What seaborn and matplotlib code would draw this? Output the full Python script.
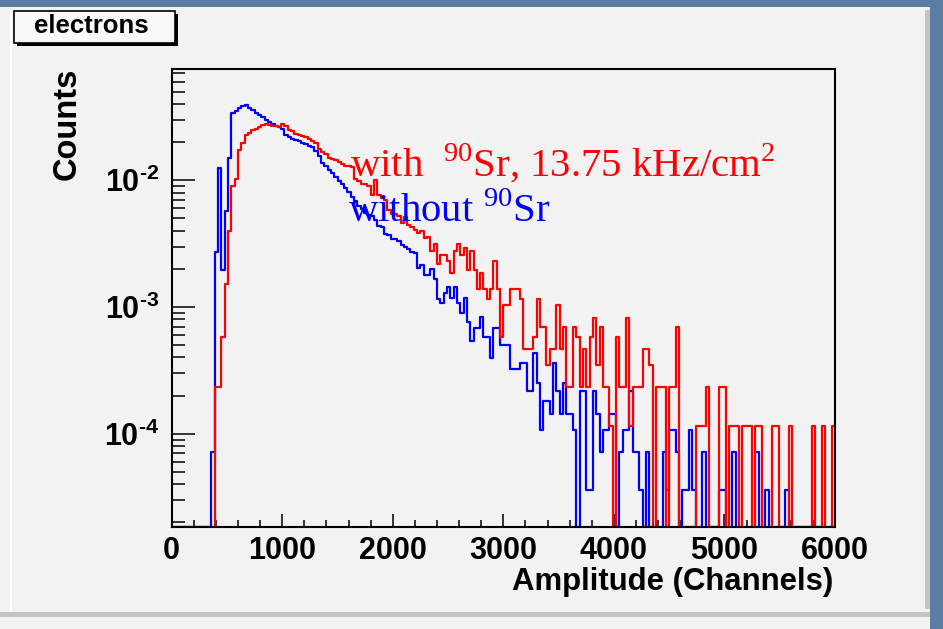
import numpy as np
import pandas as pd
import seaborn as sns
import matplotlib.pyplot as plt
from matplotlib.patches import Rectangle
from matplotlib.ticker import MultipleLocator, LogLocator, FuncFormatter, NullFormatter

# histogram binning: 200 bins of 30 channels between 0 and 6000
bin_width = 30
x_range = (0, 6000)
edges = np.arange(x_range[0], x_range[1] + bin_width, bin_width)

# entries per bin (blue = without 90Sr, red = with 90Sr)
blue_counts = [
    0, 0, 0, 0, 0, 0, 0, 0, 0, 0, 0, 0, 2, 76, 350, 54, 160, 420, 940, 980,
    1030, 1080, 1090, 1030, 990, 940, 910, 880, 835, 800, 775, 750, 730, 700, 630, 610, 590, 580, 565, 545,
    535, 515, 505, 470, 435, 380, 360, 335, 315, 295, 275, 262, 240, 225, 205, 190, 175, 165, 152, 148,
    145, 135, 120, 118, 105, 103, 96, 95, 92, 86, 82, 80, 76, 74, 56, 60, 50, 50, 55, 46,
    32, 30, 36, 40, 33, 40, 30, 25, 33, 21, 15, 19, 19, 23, 16, 16, 11, 19, 19, 14,
    14, 14, 9, 9, 9, 10, 10, 6, 6, 12, 7, 3, 5, 5, 4, 10, 6, 4, 7, 4,
    4, 3, 0, 6, 6, 1, 1, 6, 4, 2, 3, 3, 4, 4, 0, 2, 3, 3, 6, 2,
    2, 1, 0, 2, 0, 0, 0, 0, 2, 1, 3, 3, 2, 0, 1, 1, 3, 1, 0, 0,
    2, 0, 0, 0, 0, 1, 1, 0, 0, 2, 0, 0, 0, 0, 0, 0, 2, 0, 0, 1,
    0, 0, 0, 0, 0, 1, 0, 0, 0, 0, 0, 0, 0, 0, 0, 0, 0, 0, 0, 0,
]
red_counts = [
    0, 0, 0, 0, 0, 0, 0, 0, 0, 0, 0, 0, 0, 2, 2, 5, 13, 34, 77, 88,
    150, 170, 195, 205, 214, 220, 228, 234, 240, 236, 230, 232, 225, 238, 229, 214, 210, 200, 195, 192,
    190, 182, 175, 170, 152, 145, 140, 130, 126, 125, 120, 115, 112, 112, 110, 88, 85, 80, 80, 78,
    66, 86, 66, 63, 60, 50, 47, 47, 45, 40, 44, 38, 37, 35, 33, 34, 30, 31, 24, 27,
    19, 22, 22, 20, 16, 24, 27, 22, 25, 17, 24, 17, 12, 16, 12, 10, 12, 20, 12, 5,
    9, 9, 12, 12, 12, 10, 4, 4, 4, 5, 10, 6, 6, 3, 4, 4, 9, 4, 6, 2,
    2, 6, 5, 2, 4, 2, 5, 7, 3, 6, 2, 2, 1, 0, 5, 2, 2, 7, 1, 2,
    2, 2, 4, 4, 3, 0, 2, 2, 2, 0, 2, 2, 6, 0, 0, 0, 0, 0, 1, 1,
    1, 2, 0, 0, 0, 2, 2, 0, 1, 1, 1, 0, 1, 1, 1, 0, 1, 1, 0, 0,
    0, 1, 1, 0, 0, 0, 1, 0, 0, 0, 0, 0, 0, 1, 0, 0, 1, 0, 0, 1,
]
n_blue = 27800
n_red = 8620

y_min, y_max = 1.85e-5, 0.075
centers = edges[:-1] + bin_width / 2

# empty bins sit on the bottom of the frame, like ROOT does on a log axis
df_blue = pd.DataFrame({"amplitude": centers,
                        "norm": np.clip(np.array(blue_counts) / n_blue, y_min, None)})
df_red = pd.DataFrame({"amplitude": centers,
                       "norm": np.clip(np.array(red_counts) / n_red, y_min, None)})

plt.rcParams["font.family"] = ["Liberation Sans", "DejaVu Sans"]
plt.rcParams["mathtext.fontset"] = "custom"
plt.rcParams["mathtext.rm"] = "Liberation Serif"
plt.rcParams["mathtext.sf"] = "Liberation Sans:bold"

panel = "#f2f2f2"
slide_blue = "#5c7ca4"

fig = plt.figure(figsize=(9.43, 6.29), dpi=100)
fig.patch.set_facecolor(panel)

# slide background around the canvas
fig.patches.append(Rectangle((0, 1 - 7 / 629), 1, 7 / 629, transform=fig.transFigure,
                             facecolor=slide_blue, edgecolor="none", zorder=0))
fig.patches.append(Rectangle((930 / 943, 0), 13 / 943, 1, transform=fig.transFigure,
                             facecolor=slide_blue, edgecolor="none", zorder=0))
fig.patches.append(Rectangle((925 / 943, 20 / 629), 5 / 943, 1 - 30 / 629, transform=fig.transFigure,
                             facecolor="#c4c4c4", edgecolor="none", zorder=0))
fig.patches.append(Rectangle((0, 1 - 617 / 629), 930 / 943, 5 / 629, transform=fig.transFigure,
                             facecolor="#c4c4c4", edgecolor="none", zorder=0))
fig.patches.append(Rectangle((10 / 943, 1 - 612 / 629), 2 / 943, 600 / 629, transform=fig.transFigure,
                             facecolor="white", edgecolor="none", zorder=0))

ax = fig.add_axes([171.7 / 943, 1 - 526.7 / 629, 663.3 / 943, 457.4 / 629])
ax.set_facecolor(panel)

sns.histplot(data=df_blue, x="amplitude", weights="norm", binwidth=bin_width, binrange=x_range,
             element="step", fill=False, color="#0000ff", linewidth=1.6, ax=ax)
sns.histplot(data=df_red, x="amplitude", weights="norm", binwidth=bin_width, binrange=x_range,
             element="step", fill=False, color="#ff0000", linewidth=1.6, ax=ax)

ax.set_yscale("log")
ax.set_xlim(*x_range)
ax.set_ylim(y_min, y_max)
ax.set_xlabel("")
ax.set_ylabel("")

ax.xaxis.set_major_locator(MultipleLocator(1000))
ax.xaxis.set_minor_locator(MultipleLocator(200))
ax.yaxis.set_major_locator(LogLocator(base=10, numticks=10))
ax.yaxis.set_minor_locator(LogLocator(base=10, subs=np.arange(2, 10), numticks=20))
# ROOT writes a short hyphen in the exponent
ax.yaxis.set_major_formatter(FuncFormatter(
    lambda v, p: "$\\mathsf{10^{\u2010%d}}$" % abs(round(np.log10(v)))))
ax.yaxis.set_minor_formatter(NullFormatter())

ax.tick_params(axis="x", which="major", direction="in", length=9.5, width=1.1, pad=7,
               labelsize=22)
ax.tick_params(axis="x", which="minor", direction="in", length=5, width=1.1)
ax.tick_params(axis="y", which="major", direction="in", length=16.5, width=1.1, pad=9,
               labelsize=22)
ax.tick_params(axis="y", which="minor", direction="in", length=9.4, width=1.1)
for lab in ax.get_xticklabels():
    lab.set_fontweight("bold")
for side in ["left", "bottom", "top", "right"]:
    ax.spines[side].set_linewidth(1.5)

fig.text(833 / 943, 1 - 590 / 629, "Amplitude (Channels)", ha="right", va="baseline",
         fontsize=22.4, fontweight="bold")
fig.text(67 / 943, 1 - 124 / 629, "Counts", rotation=90, ha="center", va="center",
         fontsize=23.5, fontweight="bold")

fig.text(350 / 943, 1 - 177 / 629, r"with  $^{90}$Sr, 13.75 kHz/cm$^{2}$", color="#ff0000",
         fontsize=29.3, family="Liberation Serif", va="baseline")
fig.text(348 / 943, 1 - 222 / 629, r"without $^{90}$Sr", color="#0000ff",
         fontsize=29.3, family="Liberation Serif", va="baseline")

# ROOT title box with its drop shadow
fig.patches.append(Rectangle((17 / 943, 1 - 46 / 629), 161 / 943, 32 / 629, transform=fig.transFigure,
                             facecolor="black", edgecolor="none", zorder=1))
fig.patches.append(Rectangle((14 / 943, 1 - 43 / 629), 161 / 943, 32 / 629, transform=fig.transFigure,
                             facecolor="#f9f9f9", edgecolor="black", linewidth=1.2, zorder=2))
fig.text(91 / 943, 1 - 26 / 629, "electrons", ha="center", va="center",
         fontsize=18.5, fontweight="bold", zorder=3)

fig.savefig("out.png", dpi=100, facecolor=fig.get_facecolor())
